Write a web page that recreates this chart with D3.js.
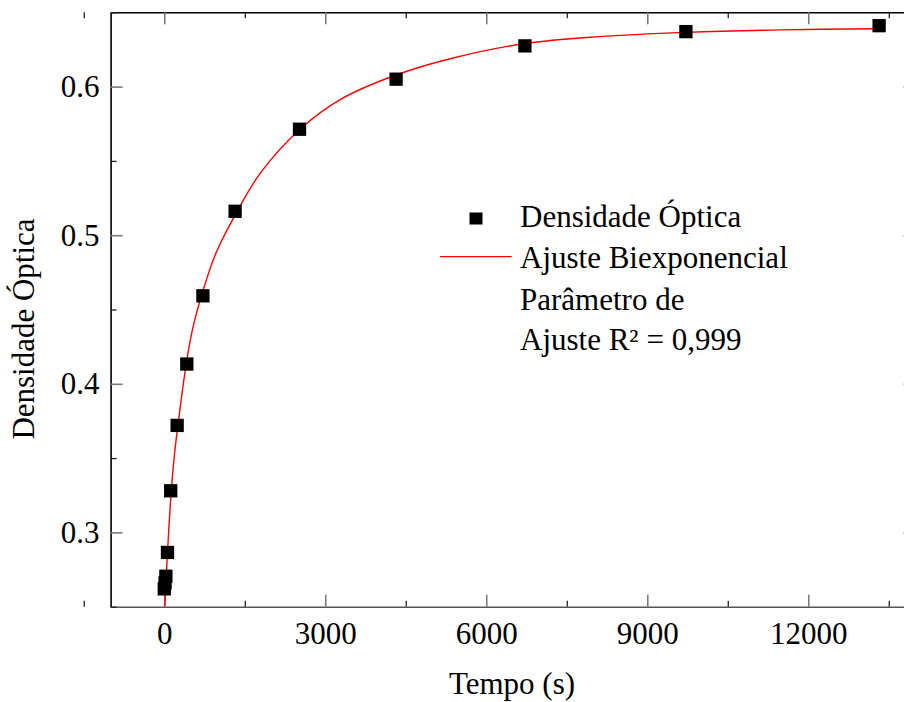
<!DOCTYPE html>
<html>
<head>
<meta charset="utf-8">
<script src="https://cdn.jsdelivr.net/npm/d3@7"></script>
<style>
  html, body { margin: 0; padding: 0; background: #fff; }
  svg { display: block; }
  text { font-family: "Liberation Serif", "Times New Roman", serif; fill: #000; }
</style>
</head>
<body>
<svg id="chart" width="904" height="702"></svg>
<script>
// Measured optical density over time
const tempo = [0, 15, 30, 60, 120, 240, 420, 720, 1320, 2520, 4320, 6720, 9720, 13320];
const densidade = [0.262, 0.266, 0.2705, 0.2865, 0.328, 0.372, 0.4133, 0.4592, 0.5161, 0.5713, 0.605, 0.6274, 0.637, 0.641];

// Biexponential fit curve, sampled along its length
const ajusteTempo = [0, 30, 60, 120, 180, 240, 420, 540, 720, 960, 1320, 1800, 2520, 3300, 4320, 5400, 6720, 8100, 9720, 11500, 13320];
const ajusteValor = [0.243, 0.2655, 0.2865, 0.3225, 0.349, 0.368, 0.416, 0.4388, 0.4625, 0.4877, 0.5135, 0.5423, 0.571, 0.5917, 0.6078, 0.6194, 0.629, 0.6336, 0.6365, 0.6382, 0.6389];

// Axis ticks
const xMajor = [0, 3000, 6000, 9000, 12000];
const xMinor = [-1500, 1500, 4500, 7500, 10500, 13500];
const yMajor = [0.3, 0.4, 0.5, 0.6];
const yMinor = [0.25, 0.35, 0.45, 0.55, 0.65];

// Legend entries
const legendPoints = "Densidade Óptica";
const legendLine = "Ajuste Biexponencial";
const legendNote = ["Parâmetro de", "Ajuste R² = 0,999"];

const svg = d3.select("#chart");
const FONT = 31;

const x = d3.scaleLinear().domain([-1000, 14000]).range([110.6, 915.6]);
const y = d3.scaleLinear().domain([0.25, 0.65]).range([606.7, 12.3]);

const [x0, x1] = x.range();
const [yB, yT] = y.range();

svg.append("defs").append("clipPath").attr("id", "plotClip")
  .append("rect").attr("x", x0).attr("y", yT).attr("width", x1 - x0).attr("height", yB - yT);

function styleAxis(g, domainColor) {
  g.select(".domain").attr("stroke", domainColor).attr("stroke-width", 1.6);
  g.selectAll(".tick line").attr("stroke", "#7a7a7a").attr("stroke-width", 1.6);
  g.selectAll(".tick text").attr("font-size", FONT).attr("font-family", "Liberation Serif");
}
function styleMinor(g) {
  g.select(".domain").remove();
  g.selectAll(".tick line").attr("stroke", "#222").attr("stroke-width", 1.3);
}

// Bottom axis
const gBottom = svg.append("g").attr("transform", `translate(0,${yB})`)
  .call(d3.axisBottom(x).tickValues(xMajor).tickSizeInner(-12).tickSizeOuter(0).tickFormat(d3.format("d")));
styleAxis(gBottom, "#555");
gBottom.selectAll(".tick text").attr("y", 37.5).attr("dy", 0);
svg.append("g").attr("transform", `translate(0,${yB})`)
  .call(d3.axisBottom(x).tickValues(xMinor).tickSizeInner(-6).tickSizeOuter(0).tickFormat(""))
  .call(styleMinor);

// Top axis
const gTop = svg.append("g").attr("transform", `translate(0,${yT})`)
  .call(d3.axisTop(x).tickValues(xMajor).tickSizeInner(-12).tickSizeOuter(0).tickFormat(""));
styleAxis(gTop, "#000");
svg.append("g").attr("transform", `translate(0,${yT})`)
  .call(d3.axisTop(x).tickValues(xMinor).tickSizeInner(-6).tickSizeOuter(0).tickFormat(""))
  .call(styleMinor);

// Left axis
const gLeft = svg.append("g").attr("transform", `translate(${x0},0)`)
  .call(d3.axisLeft(y).tickValues(yMajor).tickSizeInner(-12).tickSizeOuter(0).tickFormat(d3.format(".1f")));
styleAxis(gLeft, "#000");
gLeft.selectAll(".tick text").attr("x", -11).attr("dy", "0.32em");
svg.append("g").attr("transform", `translate(${x0},0)`)
  .call(d3.axisLeft(y).tickValues(yMinor).tickSizeInner(-6).tickSizeOuter(0).tickFormat(""))
  .call(styleMinor);

// Right axis
const gRight = svg.append("g").attr("transform", `translate(${x1},0)`)
  .call(d3.axisRight(y).tickValues(yMajor).tickSizeInner(-12).tickSizeOuter(0).tickFormat(""));
styleAxis(gRight, "#000");
svg.append("g").attr("transform", `translate(${x1},0)`)
  .call(d3.axisRight(y).tickValues(yMinor).tickSizeInner(-6).tickSizeOuter(0).tickFormat(""))
  .call(styleMinor);

// Fit curve
const fitData = ajusteTempo.map((t, i) => [t, ajusteValor[i]]);
svg.append("path")
  .datum(fitData)
  .attr("clip-path", "url(#plotClip)")
  .attr("fill", "none")
  .attr("stroke", "#ff0000")
  .attr("stroke-width", 1.4)
  .attr("d", d3.line().x(d => x(d[0])).y(d => y(d[1])).curve(d3.curveCatmullRom.alpha(0.5)));

// Data points
const SQ = 13.3;
svg.append("g").selectAll("rect")
  .data(tempo.map((t, i) => [t, densidade[i]]))
  .join("rect")
  .attr("x", d => x(d[0]) - SQ / 2)
  .attr("y", d => y(d[1]) - SQ / 2)
  .attr("width", SQ)
  .attr("height", SQ)
  .attr("fill", "#000");

// Axis titles
svg.append("text")
  .attr("x", 512).attr("y", 694)
  .attr("text-anchor", "middle")
  .attr("font-size", FONT)
  .text("Tempo (s)");
svg.append("text")
  .attr("transform", "translate(34,329) rotate(-90)")
  .attr("text-anchor", "middle")
  .attr("font-size", FONT)
  .text("Densidade Óptica");

// Legend
const lg = svg.append("g");
lg.append("rect").attr("x", 476 - 6.5).attr("y", 218.5 - 6).attr("width", 13).attr("height", 12).attr("fill", "#000");
lg.append("text").attr("x", 520).attr("y", 226.7).attr("font-size", FONT).text(legendPoints);
lg.append("line").attr("x1", 440).attr("x2", 511.7).attr("y1", 256.7).attr("y2", 256.7)
  .attr("stroke", "#ff0000").attr("stroke-width", 1.2);
lg.append("text").attr("x", 520).attr("y", 268.3).attr("font-size", FONT).text(legendLine);
legendNote.forEach((s, i) => {
  lg.append("text").attr("x", 520).attr("y", 309.5 + i * 40.5).attr("font-size", FONT).text(s);
});
</script>
</body>
</html>
